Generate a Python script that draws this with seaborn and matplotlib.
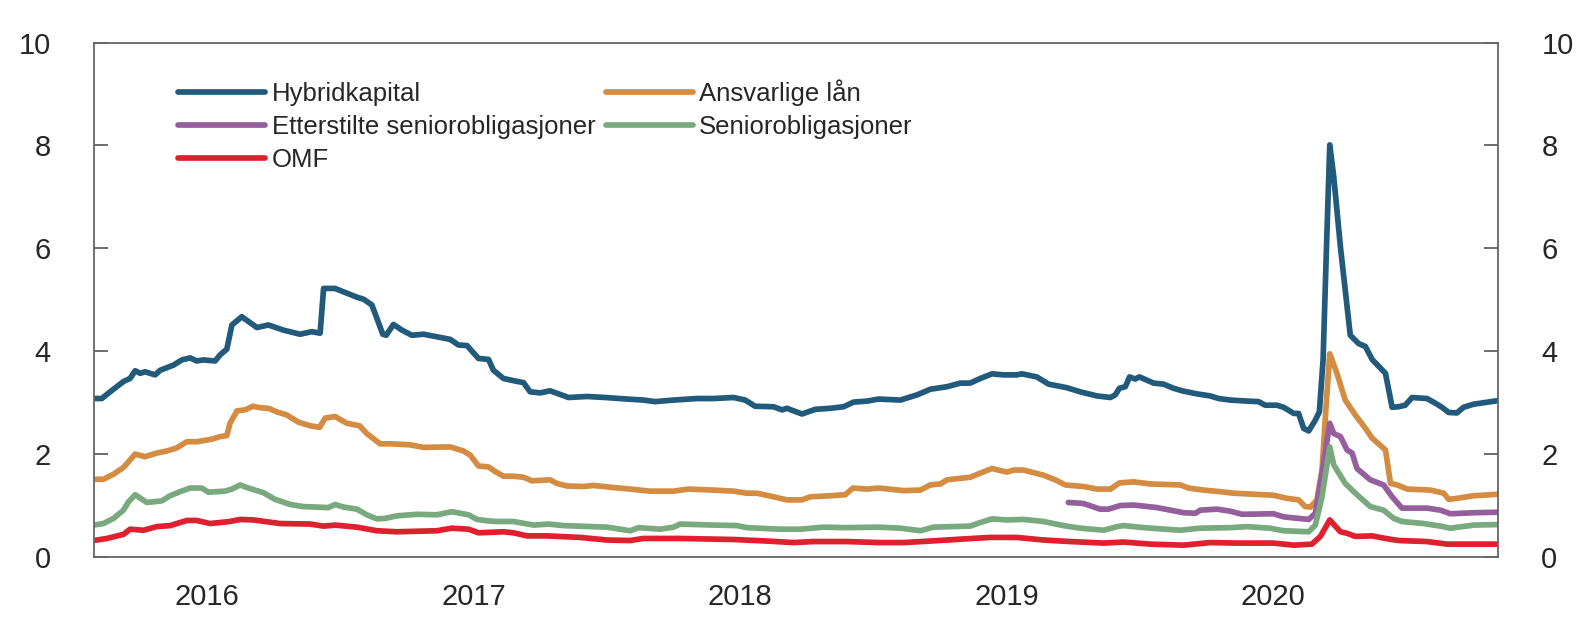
import numpy as np
import pandas as pd
import matplotlib
matplotlib.use("Agg")
import matplotlib.pyplot as plt
import seaborn as sns

# Values (x in decimal years, y in percentage points)
hyb_x = [2015.575, 2015.606, 2015.637, 2015.687, 2015.712, 2015.731, 2015.750, 2015.768, 2015.806, 2015.825,
         2015.875, 2015.906, 2015.937, 2015.962, 2015.987, 2016.031, 2016.050, 2016.075, 2016.094, 2016.131,
         2016.188, 2016.231, 2016.287, 2016.350, 2016.394, 2016.425, 2016.438, 2016.481, 2016.525, 2016.563,
         2016.588, 2016.619, 2016.638, 2016.660, 2016.673, 2016.700, 2016.732, 2016.769, 2016.813, 2016.863,
         2016.913, 2016.944, 2016.976, 2017.019, 2017.057, 2017.075, 2017.113, 2017.157, 2017.188, 2017.213,
         2017.251, 2017.288, 2017.357, 2017.426, 2017.495, 2017.576, 2017.638, 2017.682, 2017.751, 2017.839,
         2017.901, 2017.976, 2018.020, 2018.057, 2018.126, 2018.158, 2018.176, 2018.233, 2018.283, 2018.339,
         2018.389, 2018.426, 2018.477, 2018.520, 2018.602, 2018.664, 2018.714, 2018.777, 2018.827, 2018.864,
         2018.902, 2018.946, 2018.989, 2019.039, 2019.058, 2019.114, 2019.158, 2019.227, 2019.277, 2019.340,
         2019.390, 2019.408, 2019.424, 2019.446, 2019.462, 2019.483, 2019.499, 2019.552, 2019.589, 2019.627,
         2019.659, 2019.715, 2019.765, 2019.796, 2019.840, 2019.902, 2019.946, 2019.971, 2020.015, 2020.040,
         2020.078, 2020.096, 2020.115, 2020.134, 2020.159, 2020.174, 2020.188, 2020.200, 2020.213, 2020.228,
         2020.253, 2020.275, 2020.290, 2020.321, 2020.347, 2020.372, 2020.422, 2020.447, 2020.471, 2020.496,
         2020.522, 2020.578, 2020.609, 2020.634, 2020.659, 2020.690, 2020.715, 2020.753, 2020.845]
hyb_y = [3.08, 3.08, 3.21, 3.41, 3.47, 3.62, 3.57, 3.60, 3.54, 3.63,
         3.73, 3.83, 3.87, 3.81, 3.83, 3.81, 3.93, 4.04, 4.51, 4.67,
         4.46, 4.51, 4.41, 4.33, 4.38, 4.35, 5.22, 5.22, 5.13, 5.05,
         5.01, 4.90, 4.64, 4.33, 4.31, 4.52, 4.41, 4.31, 4.33, 4.28,
         4.23, 4.12, 4.11, 3.86, 3.84, 3.63, 3.47, 3.42, 3.39, 3.21,
         3.19, 3.23, 3.10, 3.12, 3.10, 3.07, 3.05, 3.02, 3.05, 3.08,
         3.08, 3.10, 3.05, 2.93, 2.92, 2.86, 2.89, 2.78, 2.87, 2.89,
         2.92, 3.01, 3.03, 3.07, 3.05, 3.15, 3.26, 3.31, 3.38, 3.38,
         3.47, 3.56, 3.54, 3.54, 3.56, 3.50, 3.36, 3.29, 3.21, 3.13,
         3.10, 3.15, 3.28, 3.31, 3.50, 3.46, 3.50, 3.38, 3.36, 3.28,
         3.23, 3.17, 3.13, 3.08, 3.05, 3.03, 3.02, 2.95, 2.95, 2.91,
         2.79, 2.79, 2.50, 2.45, 2.66, 2.82, 3.83, 5.90, 8.01, 7.39,
         6.03, 5.00, 4.31, 4.15, 4.09, 3.84, 3.57, 2.91, 2.92, 2.95,
         3.10, 3.08, 2.99, 2.91, 2.81, 2.80, 2.91, 2.97, 3.04]

ans_x = [2015.575, 2015.612, 2015.650, 2015.687, 2015.706, 2015.731, 2015.768, 2015.812, 2015.850, 2015.887,
         2015.925, 2015.962, 2016.019, 2016.050, 2016.075, 2016.087, 2016.113, 2016.144, 2016.173, 2016.200,
         2016.231, 2016.263, 2016.300, 2016.344, 2016.388, 2016.423, 2016.444, 2016.481, 2016.525, 2016.573,
         2016.600, 2016.650, 2016.688, 2016.763, 2016.813, 2016.913, 2016.963, 2016.988, 2017.019, 2017.057,
         2017.082, 2017.113, 2017.150, 2017.188, 2017.220, 2017.288, 2017.313, 2017.351, 2017.413, 2017.451,
         2017.526, 2017.588, 2017.663, 2017.751, 2017.807, 2017.901, 2017.976, 2018.026, 2018.064, 2018.126,
         2018.176, 2018.233, 2018.264, 2018.339, 2018.395, 2018.424, 2018.477, 2018.520, 2018.614, 2018.677,
         2018.714, 2018.752, 2018.777, 2018.864, 2018.902, 2018.946, 2019.002, 2019.027, 2019.064, 2019.139,
         2019.183, 2019.221, 2019.289, 2019.340, 2019.390, 2019.424, 2019.477, 2019.540, 2019.652, 2019.683,
         2019.740, 2019.802, 2019.852, 2019.927, 2020.002, 2020.053, 2020.096, 2020.121, 2020.140, 2020.165,
         2020.184, 2020.200, 2020.213, 2020.240, 2020.271, 2020.309, 2020.347, 2020.372, 2020.422, 2020.441,
         2020.466, 2020.504, 2020.591, 2020.641, 2020.659, 2020.690, 2020.753, 2020.845]
ans_y = [1.51, 1.51, 1.61, 1.74, 1.85, 2.00, 1.95, 2.02, 2.06, 2.12,
         2.24, 2.24, 2.29, 2.34, 2.36, 2.60, 2.84, 2.86, 2.93, 2.90,
         2.89, 2.82, 2.76, 2.62, 2.55, 2.52, 2.70, 2.73, 2.60, 2.55,
         2.40, 2.20, 2.20, 2.18, 2.13, 2.14, 2.06, 1.98, 1.77, 1.75,
         1.66, 1.57, 1.57, 1.55, 1.48, 1.50, 1.43, 1.38, 1.37, 1.39,
         1.35, 1.32, 1.28, 1.28, 1.32, 1.30, 1.28, 1.24, 1.24, 1.17,
         1.11, 1.11, 1.17, 1.19, 1.21, 1.34, 1.32, 1.34, 1.29, 1.30,
         1.40, 1.42, 1.50, 1.55, 1.63, 1.72, 1.65, 1.69, 1.69, 1.59,
         1.50, 1.40, 1.37, 1.32, 1.32, 1.44, 1.46, 1.42, 1.40, 1.34,
         1.30, 1.27, 1.24, 1.22, 1.20, 1.14, 1.11, 0.98, 0.97, 1.11,
         1.69, 2.99, 3.95, 3.57, 3.05, 2.76, 2.50, 2.31, 2.08, 1.43,
         1.40, 1.32, 1.30, 1.24, 1.12, 1.14, 1.19, 1.22]

ett_x = [2019.232, 2019.289, 2019.351, 2019.383, 2019.427, 2019.477, 2019.565, 2019.615, 2019.665, 2019.709,
         2019.727, 2019.790, 2019.840, 2019.884, 2020.002, 2020.040, 2020.134, 2020.159, 2020.184, 2020.213,
         2020.228, 2020.253, 2020.278, 2020.297, 2020.315, 2020.365, 2020.415, 2020.447, 2020.484, 2020.578,
         2020.628, 2020.666, 2020.753, 2020.845]
ett_y = [1.06, 1.04, 0.93, 0.93, 1.00, 1.01, 0.96, 0.91, 0.86, 0.85,
         0.91, 0.93, 0.89, 0.83, 0.84, 0.78, 0.73, 0.85, 1.63, 2.60,
         2.40, 2.34, 2.08, 2.02, 1.72, 1.50, 1.40, 1.17, 0.95, 0.95,
         0.91, 0.84, 0.86, 0.87]

sen_x = [2015.575, 2015.612, 2015.650, 2015.687, 2015.706, 2015.731, 2015.775, 2015.831, 2015.862, 2015.900,
         2015.937, 2015.981, 2016.006, 2016.069, 2016.094, 2016.125, 2016.156, 2016.212, 2016.256, 2016.313,
         2016.362, 2016.456, 2016.481, 2016.513, 2016.563, 2016.600, 2016.638, 2016.669, 2016.713, 2016.788,
         2016.863, 2016.919, 2016.982, 2017.013, 2017.057, 2017.088, 2017.150, 2017.226, 2017.282, 2017.338,
         2017.501, 2017.551, 2017.588, 2017.620, 2017.701, 2017.751, 2017.776, 2017.901, 2017.989, 2018.026,
         2018.151, 2018.226, 2018.314, 2018.389, 2018.520, 2018.602, 2018.677, 2018.726, 2018.864, 2018.902,
         2018.946, 2019.002, 2019.064, 2019.139, 2019.214, 2019.277, 2019.365, 2019.415, 2019.440, 2019.515,
         2019.652, 2019.727, 2019.840, 2019.902, 2019.989, 2020.040, 2020.134, 2020.159, 2020.184, 2020.213,
         2020.228, 2020.271, 2020.309, 2020.365, 2020.415, 2020.453, 2020.484, 2020.565, 2020.628, 2020.666,
         2020.753, 2020.845]
sen_y = [0.62, 0.65, 0.75, 0.91, 1.07, 1.21, 1.06, 1.09, 1.19, 1.27,
         1.34, 1.34, 1.26, 1.28, 1.32, 1.40, 1.34, 1.25, 1.12, 1.02,
         0.98, 0.96, 1.02, 0.97, 0.93, 0.82, 0.74, 0.75, 0.80, 0.83,
         0.82, 0.88, 0.82, 0.73, 0.70, 0.69, 0.69, 0.62, 0.64, 0.61,
         0.58, 0.54, 0.51, 0.57, 0.54, 0.58, 0.64, 0.62, 0.61, 0.57,
         0.54, 0.54, 0.58, 0.57, 0.58, 0.56, 0.51, 0.58, 0.60, 0.67,
         0.74, 0.72, 0.73, 0.69, 0.61, 0.56, 0.52, 0.59, 0.61, 0.57,
         0.52, 0.56, 0.57, 0.59, 0.56, 0.51, 0.49, 0.62, 1.17, 2.14,
         1.79, 1.43, 1.24, 0.98, 0.91, 0.75, 0.69, 0.65, 0.60, 0.56,
         0.62, 0.63]

omf_x = [2015.575, 2015.625, 2015.687, 2015.712, 2015.762, 2015.812, 2015.862, 2015.925, 2015.962, 2016.012,
         2016.087, 2016.125, 2016.175, 2016.275, 2016.388, 2016.438, 2016.481, 2016.563, 2016.638, 2016.713,
         2016.863, 2016.919, 2016.982, 2017.019, 2017.113, 2017.150, 2017.201, 2017.276, 2017.401, 2017.501,
         2017.588, 2017.638, 2017.776, 2017.976, 2018.101, 2018.201, 2018.276, 2018.402, 2018.520, 2018.614,
         2018.714, 2018.839, 2018.939, 2019.039, 2019.139, 2019.239, 2019.365, 2019.440, 2019.540, 2019.664,
         2019.765, 2019.865, 2020.002, 2020.078, 2020.146, 2020.178, 2020.213, 2020.253, 2020.278, 2020.309,
         2020.372, 2020.422, 2020.471, 2020.578, 2020.653, 2020.845]
omf_y = [0.32, 0.36, 0.44, 0.54, 0.52, 0.59, 0.61, 0.71, 0.71, 0.65,
         0.69, 0.73, 0.72, 0.65, 0.64, 0.60, 0.62, 0.58, 0.51, 0.49,
         0.51, 0.56, 0.54, 0.47, 0.49, 0.47, 0.41, 0.41, 0.38, 0.33,
         0.32, 0.36, 0.36, 0.34, 0.31, 0.28, 0.30, 0.30, 0.28, 0.28,
         0.31, 0.35, 0.38, 0.38, 0.33, 0.30, 0.27, 0.29, 0.25, 0.23,
         0.28, 0.27, 0.27, 0.23, 0.25, 0.40, 0.72, 0.49, 0.46, 0.40,
         0.41, 0.36, 0.32, 0.30, 0.25, 0.25]

series_names = ["Hybridkapital", "Ansvarlige lån", "Etterstilte seniorobligasjoner",
                "Seniorobligasjoner", "OMF"]
series_colors = ["#215a7b", "#d48c42", "#955e9c", "#79a97e", "#e01f2f"]
year_ticks = [2016, 2017, 2018, 2019, 2020]
y_ticks = [0, 2, 4, 6, 8, 10]

# Long-form table for seaborn
frames = []
for name, xs, ys in zip(series_names,
                        [hyb_x, ans_x, ett_x, sen_x, omf_x],
                        [hyb_y, ans_y, ett_y, sen_y, omf_y]):
    frames.append(pd.DataFrame({"year": xs, "value": ys, "series": name}))
df = pd.concat(frames, ignore_index=True)

sns.set_style("white")
plt.rcParams["font.family"] = ["Liberation Sans", "DejaVu Sans"]

fig = plt.figure(figsize=(15.94, 6.31), dpi=100)
ax = fig.add_axes([0.0587, 0.1173, 0.8812, 0.8153])

sns.lineplot(data=df, x="year", y="value", hue="series", hue_order=series_names,
             palette=series_colors, estimator=None, sort=False, linewidth=4.1,
             ax=ax, legend=False)

ax.set_xlim(2015.575, 2020.845)
ax.set_ylim(0, 10)
ax.set_xticks(year_ticks)
ax.set_xticklabels([str(y) for y in year_ticks])
ax.set_yticks(y_ticks)
ax.set_yticklabels([str(y) for y in y_ticks])
ax.set_xlabel("")
ax.set_ylabel("")

for side in ["left", "right", "top", "bottom"]:
    ax.spines[side].set_visible(True)
    ax.spines[side].set_color("#666666")
    ax.spines[side].set_linewidth(1.3)

ax.tick_params(axis="x", direction="in", length=10, width=1.1, color="#444444",
               labelsize=21, pad=19)
ax.tick_params(axis="y", direction="in", length=10, width=1.1, color="#444444",
               labelsize=21, pad=31, left=True, right=True, labelleft=True, labelright=True)

# Legend: two columns, entries filled column-wise
order = [0, 2, 4, 1, 3]
handles = [plt.Line2D([], [], color=series_colors[i], linewidth=4.1) for i in order]
labels = [series_names[i] for i in order]
ax.legend(handles, labels, ncol=2, loc="upper left", bbox_to_anchor=(0.06, 0.928),
          frameon=False, fontsize=18.5, handlelength=3.4, handletextpad=0.25,
          columnspacing=0.4, labelspacing=0.34, borderpad=0, borderaxespad=0)

fig.savefig("out.png", dpi=100)
